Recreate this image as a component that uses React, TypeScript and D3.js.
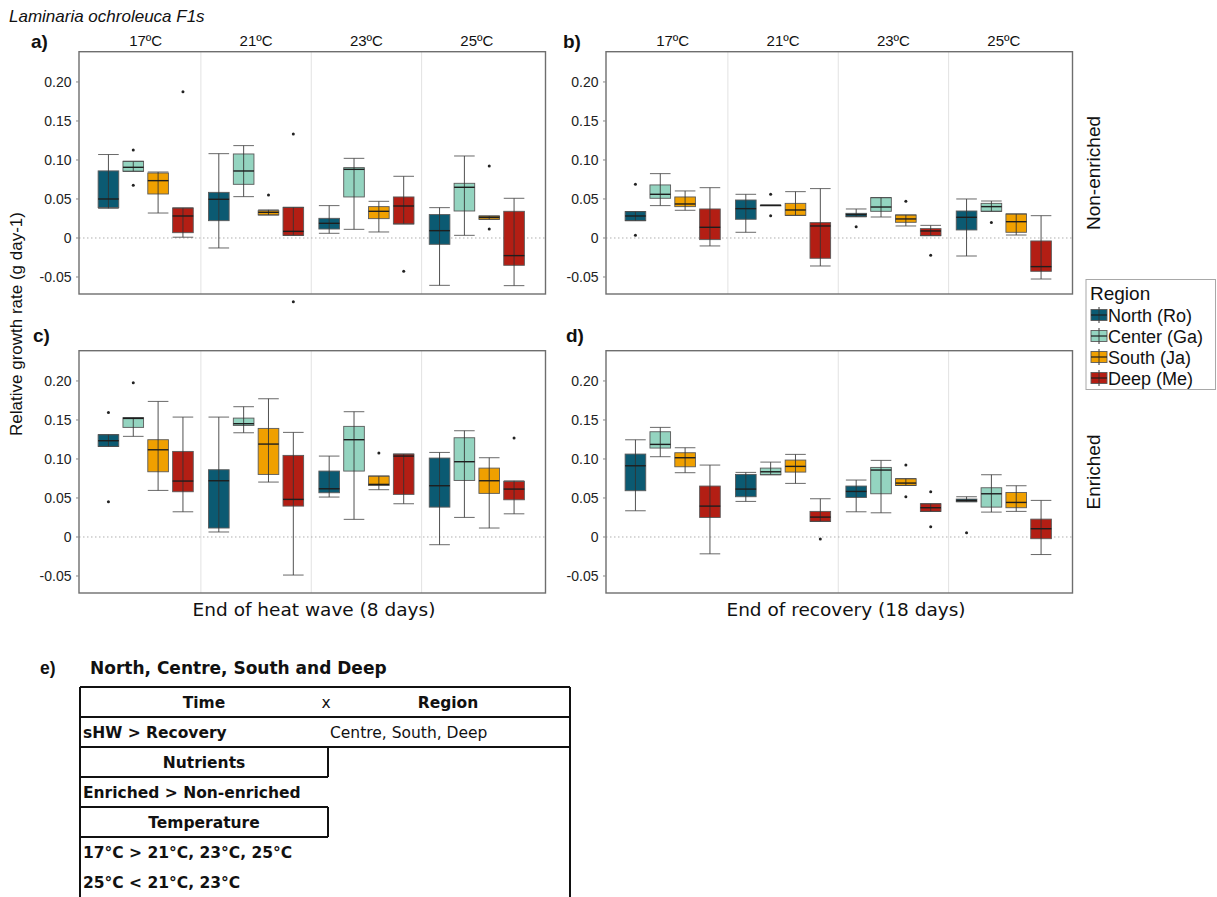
import React from "react";
import * as d3 from "d3";

// ---- categories, ticks and colours ----
const temperatures = ["17ºC", "21ºC", "23ºC", "25ºC"];
const regions = ["North (Ro)", "Center (Ga)", "South (Ja)", "Deep (Me)"];
const regionFill = ["#0b5a72", "#94d4c0", "#f0a000", "#b31e14"];
const yTickValues = [-0.05, 0, 0.05, 0.1, 0.15, 0.2];
const yTickLabels = ["-0.05", "0", "0.05", "0.10", "0.15", "0.20"];
const yDomain = [-0.0718, 0.2388];

// Box summaries per temperature (rows) and region (columns):
// [lower whisker, Q1, median, Q3, upper whisker]
const heatNonEnriched = [
  [[0.038, 0.039, 0.05, 0.086, 0.107], [0.0855, 0.0855, 0.0906, 0.0983, 0.0983], [0.032, 0.0564, 0.0735, 0.0833, 0.0846], [0.001, 0.0068, 0.0282, 0.0385, 0.0385]],
  [[-0.0128, 0.0222, 0.0496, 0.0585, 0.1081], [0.053, 0.0688, 0.0859, 0.1077, 0.1184], [0.0295, 0.0295, 0.0329, 0.035, 0.036], [0.0034, 0.0034, 0.0085, 0.0393, 0.0393]],
  [[0.006, 0.0115, 0.0188, 0.0252, 0.0415], [0.0111, 0.0526, 0.088, 0.0902, 0.1021], [0.0077, 0.0248, 0.0342, 0.0402, 0.047], [0.018, 0.018, 0.041, 0.0526, 0.0791]],
  [[-0.0607, -0.0081, 0.0094, 0.03, 0.0389], [0.0034, 0.0346, 0.065, 0.0701, 0.1051], [0.024, 0.024, 0.0265, 0.0282, 0.0282], [-0.0611, -0.035, -0.0226, 0.0342, 0.0509]],
];
const heatNonEnrichedOutliers = [
  [[], [0.1128, 0.0675], [], [0.1876]],
  [[], [], [0.0551], [0.1333, -0.0816]],
  [[], [], [], [-0.0427]],
  [[], [], [0.0923, 0.0115], []],
];

const recoveryNonEnriched = [
  [[0.0222, 0.0222, 0.0282, 0.0338, 0.0338], [0.0415, 0.0509, 0.056, 0.068, 0.0825], [0.0355, 0.0402, 0.0436, 0.0526, 0.0603], [-0.0102, -0.0021, 0.0137, 0.0372, 0.0645]],
  [[0.0073, 0.024, 0.0376, 0.0487, 0.056], [0.0419, 0.0419, 0.0419, 0.0419, 0.0419], [0.029, 0.029, 0.0359, 0.0444, 0.0594], [-0.0359, -0.026, 0.0154, 0.0197, 0.0633]],
  [[0.0273, 0.0273, 0.03, 0.0316, 0.0372], [0.0269, 0.0342, 0.0397, 0.0517, 0.0517], [0.0154, 0.0201, 0.0244, 0.0295, 0.0295], [0.003, 0.003, 0.009, 0.012, 0.0162]],
  [[-0.0231, 0.0103, 0.0265, 0.0346, 0.05], [0.0342, 0.0342, 0.0402, 0.0444, 0.0474], [0.0038, 0.0073, 0.0209, 0.0308, 0.0308], [-0.0526, -0.0427, -0.0367, -0.0038, 0.0286]],
];
const recoveryNonEnrichedOutliers = [
  [[0.0688, 0.0034], [], [], []],
  [[], [0.056, 0.0286], [], []],
  [[0.0145], [], [0.047], [-0.0222]],
  [[], [0.0197], [], []],
];

const heatEnriched = [
  [[0.1161, 0.1161, 0.1234, 0.1311, 0.1311], [0.129, 0.1405, 0.152, 0.1529, 0.1529], [0.0597, 0.0836, 0.1118, 0.1247, 0.1738], [0.0323, 0.058, 0.0717, 0.1097, 0.1537]],
  [[0.0064, 0.0115, 0.0721, 0.0862, 0.1537], [0.1336, 0.143, 0.1452, 0.1524, 0.167], [0.0704, 0.0802, 0.1191, 0.1392, 0.1772], [-0.0488, 0.0396, 0.0482, 0.1046, 0.1341]],
  [[0.0512, 0.0567, 0.0618, 0.0845, 0.1037], [0.0226, 0.0845, 0.1247, 0.1418, 0.1606], [0.0606, 0.0661, 0.0674, 0.0781, 0.0781], [0.0426, 0.0546, 0.1037, 0.1063, 0.1063]],
  [[-0.0099, 0.0383, 0.0657, 0.1012, 0.1084], [0.0251, 0.0725, 0.0965, 0.1272, 0.1362], [0.0115, 0.0559, 0.0721, 0.0883, 0.1016], [0.0297, 0.0477, 0.0614, 0.0712, 0.072]],
];
const heatEnrichedOutliers = [
  [[0.1597, 0.0452], [0.1977], [], []],
  [[], [], [], []],
  [[], [], [0.1076], []],
  [[], [], [], [0.1268]],
];

const recoveryEnriched = [
  [[0.0336, 0.0593, 0.0913, 0.1063, 0.1246], [0.1029, 0.114, 0.1187, 0.1349, 0.1405], [0.0824, 0.09, 0.1016, 0.108, 0.1144], [-0.0216, 0.025, 0.0396, 0.0653, 0.0922]],
  [[0.0456, 0.0516, 0.0614, 0.0802, 0.0828], [0.0798, 0.0798, 0.0836, 0.0883, 0.096], [0.0687, 0.0832, 0.0905, 0.0986, 0.1059], [0.02, 0.02, 0.0255, 0.0328, 0.049]],
  [[0.0323, 0.0507, 0.0584, 0.0653, 0.073], [0.031, 0.0554, 0.0858, 0.0892, 0.0982], [0.0661, 0.0661, 0.0691, 0.0747, 0.0747], [0.0328, 0.0328, 0.0375, 0.0426, 0.0426]],
  [[0.0452, 0.0452, 0.0469, 0.0486, 0.0516], [0.0319, 0.0383, 0.0554, 0.0631, 0.0798], [0.0328, 0.0375, 0.0443, 0.0571, 0.0657], [-0.0225, -0.0022, 0.0106, 0.0229, 0.0469]],
];
const recoveryEnrichedOutliers = [
  [[], [], [], []],
  [[], [], [], [-0.0027]],
  [[], [], [0.0922, 0.0516], [0.058, 0.0131]],
  [[0.0055], [], [], []],
];

// Summary table rows
const tableTitle = "North, Centre, South and Deep";
const nutrientResult = "Enriched > Non-enriched";
const temperatureResults = ["17°C > 21°C, 23°C, 25°C", "25°C < 21°C, 23°C"];

const FONT = "'Liberation Sans', Arial, Helvetica, sans-serif";
const TFONT = "'DejaVu Sans', Verdana, sans-serif";

const PW = 466.5;
const PH = 242.3;
const PAD_L = 11.5;
const PAD_R = 13.5;

type PanelSpec = {
  x: number;
  y: number;
  data: number[][][];
  outliers: number[][][];
  header: boolean;
  dividers: number[];
};

const panels: PanelSpec[] = [
  { x: 79, y: 51.7, data: heatNonEnriched, outliers: heatNonEnrichedOutliers, header: true, dividers: [1, 2, 3] },
  { x: 606, y: 51.7, data: recoveryNonEnriched, outliers: recoveryNonEnrichedOutliers, header: true, dividers: [1, 2, 3] },
  { x: 79, y: 350.7, data: heatEnriched, outliers: heatEnrichedOutliers, header: false, dividers: [1, 2, 3] },
  { x: 606, y: 350.7, data: recoveryEnriched, outliers: recoveryEnrichedOutliers, header: false, dividers: [2, 3] },
];

function Panel({ p }: { p: PanelSpec }) {
  const y = d3.scaleLinear().domain(yDomain).range([PH, 0]);
  const xT = d3.scaleBand<string>().domain(temperatures).range([PAD_L, PW - PAD_R]);
  const gw = xT.bandwidth();
  const xR = d3
    .scaleBand<string>()
    .domain(regions)
    .range([-0.45 * gw, 0.45 * gw])
    .paddingInner(0.17)
    .paddingOuter(0.085);
  const bw = xR.bandwidth();

  return (
    <g transform={`translate(${p.x},${p.y})`}>
      {p.dividers.map((i) => {
        const xx = xT(temperatures[i])!;
        return <line key={i} x1={xx} x2={xx} y1={0} y2={PH} stroke="#e2e2e2" strokeWidth={1} />;
      })}
      <line x1={0} x2={PW} y1={y(0)} y2={y(0)} stroke="#b0b0b0" strokeWidth={1} strokeDasharray="1.5,2.5" />
      {temperatures.map((t, ti) =>
        regions.map((r, ri) => {
          const [lo, q1, med, q3, hi] = p.data[ti][ri];
          const cx = xT(t)! + gw / 2 + xR(r)! + bw / 2;
          const x0 = cx - bw / 2;
          const x1 = cx + bw / 2;
          return (
            <g key={`${ti}-${ri}`}>
              <rect
                x={x0}
                y={y(q3)}
                width={bw}
                height={Math.max(0.6, y(q1) - y(q3))}
                fill={regionFill[ri]}
                stroke="#5a5a5a"
                strokeWidth={0.9}
              />
              <line x1={cx} x2={cx} y1={y(lo)} y2={y(hi)} stroke="#333" strokeWidth={1} strokeOpacity={0.85} />
              <line x1={x0} x2={x1} y1={y(lo)} y2={y(lo)} stroke="#444" strokeWidth={1} strokeOpacity={0.8} />
              <line x1={x0} x2={x1} y1={y(hi)} y2={y(hi)} stroke="#444" strokeWidth={1} strokeOpacity={0.8} />
              <line x1={x0} x2={x1} y1={y(med)} y2={y(med)} stroke="#1e1e1e" strokeWidth={1.4} />
              {p.outliers[ti][ri].map((o, k) => (
                <circle key={k} cx={cx} cy={y(o)} r={1.5} fill="#222" />
              ))}
            </g>
          );
        })
      )}
      <rect x={0} y={0} width={PW} height={PH} fill="none" stroke="#6e6e6e" strokeWidth={1.4} />
      {yTickValues.map((v, i) => (
        <g key={i} transform={`translate(0,${y(v)})`}>
          <line x1={-3} x2={0} stroke="#888" strokeWidth={1} />
          <text x={-7.5} dy="0.36em" textAnchor="end" fontSize={14} fill="#222">
            {yTickLabels[i]}
          </text>
        </g>
      ))}
      {p.header &&
        temperatures.map((t) => (
          <text key={t} x={xT(t)! + gw / 2} y={-6} textAnchor="middle" fontSize={15} fill="#111">
            {t}
          </text>
        ))}
    </g>
  );
}

function Legend() {
  const x0 = 1086;
  const y0 = 279.5;
  const itemY = d3.scalePoint<string>().domain(regions).range([315, 378]);
  return (
    <g>
      <rect x={x0} y={y0} width={129.5} height={110} fill="#fff" stroke="#a8a8a8" strokeWidth={1} />
      <text x={x0 + 4} y={y0 + 20} fontSize={19} fill="#111">
        Region
      </text>
      {regions.map((r, i) => {
        const cy = itemY(r)!;
        return (
          <g key={r}>
            <line x1={x0 + 13} x2={x0 + 13} y1={cy - 8} y2={cy + 8} stroke="#333" strokeWidth={1} />
            <rect x={x0 + 5} y={cy - 5.5} width={16} height={11} fill={regionFill[i]} stroke="#5a5a5a" strokeWidth={0.9} />
            <line x1={x0 + 13} x2={x0 + 13} y1={cy - 5.5} y2={cy + 5.5} stroke="#333" strokeWidth={1} strokeOpacity={0.85} />
            <line x1={x0 + 5} x2={x0 + 21} y1={cy} y2={cy} stroke="#1e1e1e" strokeWidth={1.2} />
            <text x={x0 + 22} y={cy + 6.5} fontSize={18} fill="#111">
              {r}
            </text>
          </g>
        );
      })}
    </g>
  );
}

function SummaryTable() {
  const left = 80;
  const right = 570;
  const mid = 328;
  const rows = d3.range(8).map((i) => 687 + i * 30);
  const base = (i: number) => rows[i] + 20.5;
  const line = (x1: number, y1: number, x2: number, y2: number, k: string) => (
    <line key={k} x1={x1} y1={y1} x2={x2} y2={y2} stroke="#111" strokeWidth={2} />
  );
  return (
    <g fontFamily={TFONT} fill="#111">
      <text x={40} y={674} fontFamily={FONT} fontWeight="bold" fontSize={17.5}>
        e)
      </text>
      <text x={90} y={674} fontWeight="bold" fontSize={17}>
        {tableTitle}
      </text>
      {line(left, rows[0], right, rows[0], "h0")}
      {line(left, rows[1], right, rows[1], "h1")}
      {line(left, rows[2], right, rows[2], "h2")}
      {line(left, rows[3], mid, rows[3], "h3")}
      {line(left, rows[4], mid, rows[4], "h4")}
      {line(left, rows[5], mid, rows[5], "h5")}
      {line(left, rows[0], left, 900, "vl")}
      {line(right, rows[0], right, 900, "vr")}
      {line(mid, rows[2], mid, rows[3], "vm1")}
      {line(mid, rows[4], mid, rows[5], "vm2")}
      <text x={204} y={base(0)} textAnchor="middle" fontWeight="bold" fontSize={15.5}>Time</text>
      <text x={326} y={base(0)} textAnchor="middle" fontSize={15.5}>x</text>
      <text x={448} y={base(0)} textAnchor="middle" fontWeight="bold" fontSize={15.5}>Region</text>
      <text x={83} y={base(1)} fontWeight="bold" fontSize={15.5}>sHW &gt; Recovery</text>
      <text x={330} y={base(1)} fontSize={15.5}>Centre, South, Deep</text>
      <text x={204} y={base(2)} textAnchor="middle" fontWeight="bold" fontSize={15.5}>Nutrients</text>
      <text x={83} y={base(3)} fontWeight="bold" fontSize={15.5}>{nutrientResult}</text>
      <text x={204} y={base(4)} textAnchor="middle" fontWeight="bold" fontSize={15.5}>Temperature</text>
      {temperatureResults.map((t, i) => (
        <text key={t} x={83} y={base(5 + i)} fontWeight="bold" fontSize={15.5}>
          {t}
        </text>
      ))}
    </g>
  );
}

export default function App() {
  return (
    <svg
      width={1217}
      height={897}
      style={{ position: "absolute", left: 0, top: 0, display: "block", background: "#fff" }}
      fontFamily={FONT}
    >
      <rect width={1217} height={897} fill="#fff" />
      <text x={9} y={22} fontSize={17} fontStyle="italic" fill="#111">
        Laminaria ochroleuca F1s
      </text>
      <text x={31} y={48} fontSize={19} fontWeight="bold" fill="#111">a)</text>
      <text x={563} y={48} fontSize={19} fontWeight="bold" fill="#111">b)</text>
      <text x={33} y={342} fontSize={19} fontWeight="bold" fill="#111">c)</text>
      <text x={566} y={342} fontSize={19} fontWeight="bold" fill="#111">d)</text>
      {panels.map((p, i) => (
        <Panel key={i} p={p} />
      ))}
      <text transform="translate(22,324) rotate(-90)" textAnchor="middle" fontSize={17} fill="#111">
        Relative growth rate (g day-1)
      </text>
      <text transform="translate(1100,173) rotate(-90)" textAnchor="middle" fontSize={19} fill="#111">
        Non-enriched
      </text>
      <text transform="translate(1100,472) rotate(-90)" textAnchor="middle" fontSize={19} fill="#111">
        Enriched
      </text>
      <text x={314} y={616} textAnchor="middle" fontFamily={TFONT} fontSize={18.5} fill="#111">
        End of heat wave (8 days)
      </text>
      <text x={846} y={616} textAnchor="middle" fontFamily={TFONT} fontSize={18.5} fill="#111">
        End of recovery (18 days)
      </text>
      <Legend />
      <SummaryTable />
    </svg>
  );
}
